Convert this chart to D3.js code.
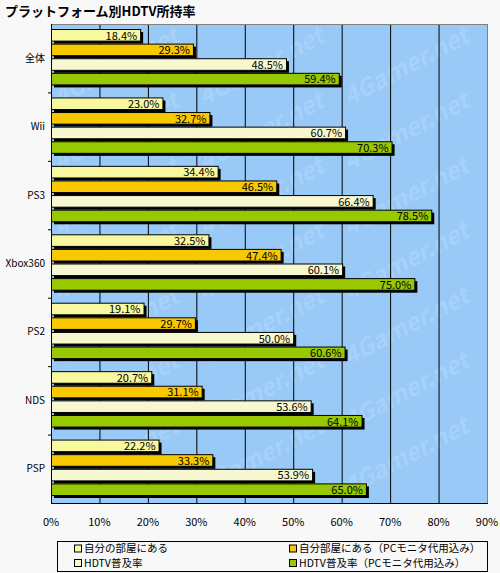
<!DOCTYPE html>
<html>
<head>
<meta charset="utf-8">
<script src="https://cdn.jsdelivr.net/npm/d3@7"></script>
<style>
  body { margin: 0; background: #f8f8f8; }
  text { font-family: "Noto Sans CJK JP", "Noto Sans", sans-serif; }
</style>
</head>
<body>
<div id="chart"></div>
<script>
// HDTV ownership by platform

var platforms = ["全体", "Wii", "PS3", "Xbox360", "PS2", "NDS", "PSP"];
var seriesNames = [
  "自分の部屋にある",
  "自分部屋にある（PCモニタ代用込み）",
  "HDTV普及率",
  "HDTV普及率（PCモニタ代用込み）"
];
var ownRoom    = [18.4, 23.0, 34.4, 32.5, 19.1, 20.7, 22.2];
var ownRoomPC  = [29.3, 32.7, 46.5, 47.4, 29.7, 31.1, 33.3];
var hdtvRate   = [48.5, 60.7, 66.4, 60.1, 50.0, 53.6, 53.9];
var hdtvRatePC = [59.4, 70.3, 78.5, 75.0, 60.6, 64.1, 65.0];
var xTicks = [0, 10, 20, 30, 40, 50, 60, 70, 80, 90];

var colors = ["#f8f8a0", "#f8c800", "#f8f8d0", "#98c800"];

var width = 500, height = 573;
var plot = { left: 51, top: 24, right: 487, bottom: 503 };

var svg = d3.select("#chart").append("svg")
  .attr("width", width)
  .attr("height", height);

svg.append("rect")
  .attr("width", width)
  .attr("height", height)
  .attr("fill", "#f8f8f8");

// title
svg.append("text")
  .attr("x", 5)
  .attr("y", 16)
  .style("font-size", "13px")
  .style("font-weight", "bold")
  .text("プラットフォーム別HDTV所持率");

var x = d3.scaleLinear().domain([0, 90]).range([plot.left, plot.right]);
var y0 = d3.scaleBand().domain(platforms).range([plot.top, plot.bottom]);
var y1 = d3.scaleBand().domain(d3.range(4))
  .range([5, y0.bandwidth() - 5]);

var series = [ownRoom, ownRoomPC, hdtvRate, hdtvRatePC];

// plot background
svg.append("rect")
  .attr("x", plot.left)
  .attr("y", plot.top)
  .attr("width", plot.right - plot.left)
  .attr("height", plot.bottom - plot.top)
  .attr("fill", "#99c9f7");

// watermark, kept fully inside the plot
var wm = svg.append("g");
for (var r = 0; r < 7; r++) {
  for (var c = 0; c < 3; c++) {
    var wx = plot.left + 8 + c * 145;
    var wy = plot.top + 82 + r * 65;
    wm.append("text")
      .attr("transform", "translate(" + wx + "," + wy + ") rotate(-28)")
      .style("font-size", "24px")
      .style("font-weight", "bold")
      .style("font-style", "italic")
      .attr("fill", "#a7d1f9")
      .text("4Gamer.net");
  }
}

// gridlines
svg.append("g")
  .selectAll("line")
  .data(xTicks.slice(1, -1))
  .join("line")
  .attr("x1", d => x(d) + 0.5)
  .attr("x2", d => x(d) + 0.5)
  .attr("y1", plot.top)
  .attr("y2", plot.bottom)
  .attr("stroke", "#000")
  .attr("stroke-width", 1);

// plot frame
svg.append("rect")
  .attr("x", plot.left + 0.5)
  .attr("y", plot.top + 0.5)
  .attr("width", plot.right - plot.left)
  .attr("height", plot.bottom - plot.top)
  .attr("fill", "none")
  .attr("stroke", "#808080");

svg.append("line")
  .attr("x1", plot.left + 0.5).attr("x2", plot.left + 0.5)
  .attr("y1", plot.top).attr("y2", plot.bottom + 1)
  .attr("stroke", "#000");
svg.append("line")
  .attr("x1", plot.left).attr("x2", plot.right + 1)
  .attr("y1", plot.bottom + 0.5).attr("y2", plot.bottom + 0.5)
  .attr("stroke", "#000");

// category ticks on the left axis
svg.append("g")
  .selectAll("line")
  .data(platforms.slice(1))
  .join("line")
  .attr("x1", plot.left - 3)
  .attr("x2", plot.left)
  .attr("y1", d => y0(d) + 0.5)
  .attr("y2", d => y0(d) + 0.5)
  .attr("stroke", "#000");

// bars
var groups = svg.append("g")
  .selectAll("g")
  .data(platforms)
  .join("g")
  .attr("transform", d => "translate(0," + y0(d) + ")");

var barH = y1.bandwidth() - 3;

groups.each(function(p, i) {
  var g = d3.select(this);
  series.forEach(function(s, k) {
    var v = s[i];
    var by = y1(k);
    // shadow
    g.append("rect")
      .attr("x", x(0) + 3)
      .attr("y", by + 3)
      .attr("width", x(v) - x(0))
      .attr("height", barH)
      .attr("fill", "#000");
    g.append("rect")
      .attr("x", x(0) + 0.5)
      .attr("y", by + 0.5)
      .attr("width", x(v) - x(0))
      .attr("height", barH)
      .attr("fill", colors[k])
      .attr("stroke", "#000");
    g.append("text")
      .attr("x", x(v) - 3)
      .attr("y", by + barH / 2 + 1)
      .attr("dy", "0.35em")
      .attr("text-anchor", "end")
      .style("font-size", "11px")
      .text(v.toFixed(1) + "%");
  });
});

// category labels
svg.append("g")
  .selectAll("text")
  .data(platforms)
  .join("text")
  .attr("x", 45)
  .attr("y", d => y0(d) + y0.bandwidth() / 2)
  .attr("dy", "0.35em")
  .attr("text-anchor", "end")
  .style("font-size", "10px")
  .text(d => d);

// x tick labels
svg.append("g")
  .selectAll("text")
  .data(xTicks)
  .join("text")
  .attr("x", d => x(d))
  .attr("y", 526)
  .attr("text-anchor", "middle")
  .style("font-size", "11px")
  .text(d => d + "%");

// legend
svg.append("rect")
  .attr("x", 57.5)
  .attr("y", 541.5)
  .attr("width", 430)
  .attr("height", 30)
  .attr("fill", "#f8f8f8")
  .attr("stroke", "#000");

var legendPos = [[74, 548.5], [289, 548.5], [74, 563], [289, 563]];
var legend = svg.append("g")
  .selectAll("g")
  .data(seriesNames)
  .join("g")
  .attr("transform", (d, i) => "translate(" + legendPos[i][0] + "," + legendPos[i][1] + ")");

legend.append("rect")
  .attr("x", 0.5)
  .attr("y", -3.5)
  .attr("width", 7)
  .attr("height", 7)
  .attr("fill", (d, i) => colors[i])
  .attr("stroke", "#000");

legend.append("text")
  .attr("x", 10)
  .attr("dy", "0.36em")
  .style("font-size", "10.5px")
  .text(d => d);
</script>
</body>
</html>
